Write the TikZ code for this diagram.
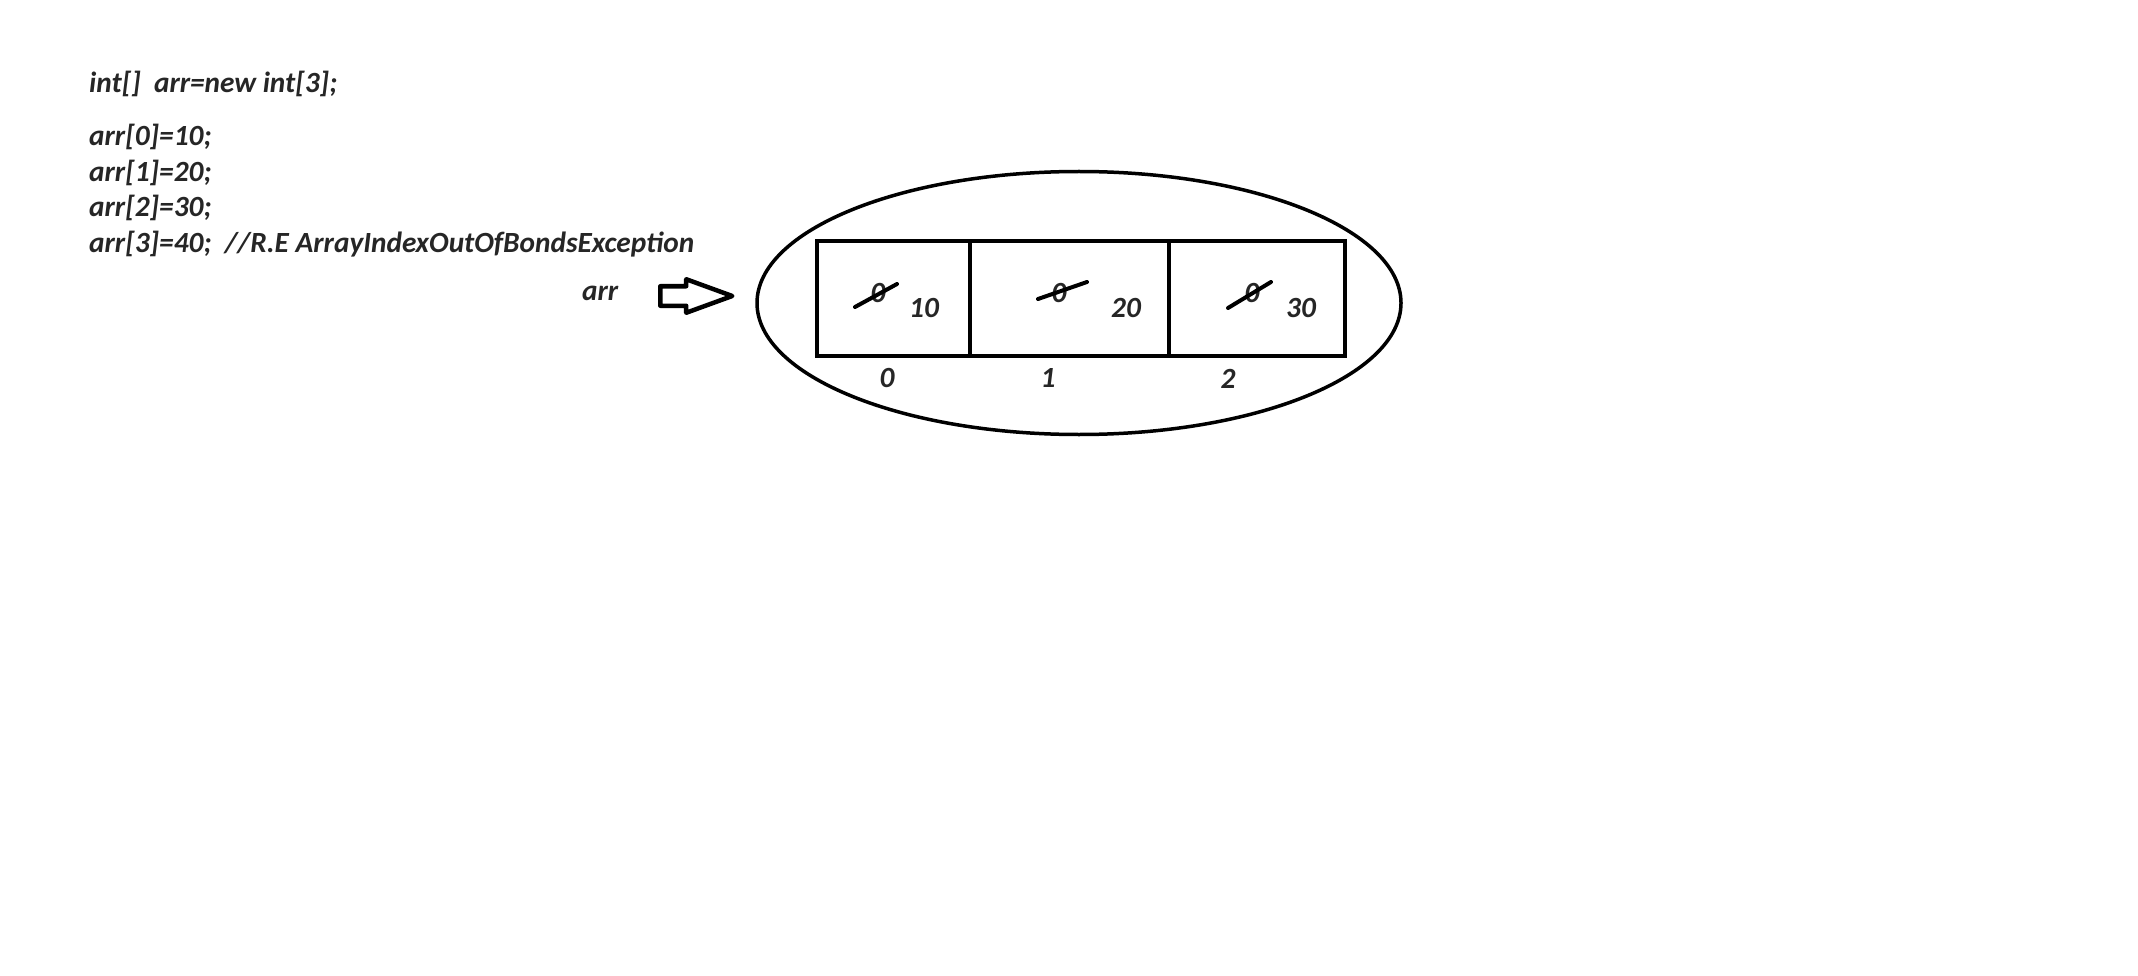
\documentclass[tikz,border=0pt]{standalone}
\usepackage{fontspec}
\setmainfont{Carlito}
\usetikzlibrary{shapes.geometric,shapes.arrows}
\definecolor{ink}{HTML}{262626}
\tikzset{
  txt/.style={inner sep=0pt,text=ink,font=\fontsize{29.3}{35}\selectfont\bfseries\itshape},
  cell/.style={draw,line width=4.5pt,inner sep=0pt,minimum height=115pt},
  strike/.style={line width=4pt,line cap=round}
}
\begin{document}
\begin{tikzpicture}[x=1pt,y=-1pt]
  \useasboundingbox[fill=white] (0,0) rectangle (2138,976);
  \node[txt,anchor=base west] (decl) at (89,93) {int[]\ \ arr=new int[3];};
  \node[txt,anchor=base west] (s0) at (89,146) {arr[0]=10;};
  \node[txt,anchor=base west] (s1) at (89,182) {arr[1]=20;};
  \node[txt,anchor=base west] (s2) at (89,217) {arr[2]=30;};
  \node[txt,anchor=base west] (s3) at (89,253) {arr[3]=40;\ \ //R.E ArrayIndexOutOfBondsException};
  \node[txt,anchor=base west] (ref) at (582,300) {arr};
  \node[single arrow,draw,line width=4.5pt,line join=round,anchor=tail,minimum height=72pt,inner xsep=0pt,inner ysep=7.5pt,
        single arrow head extend=7pt,single arrow tip angle=40] (ptr) at (658,296) {};
  \node[ellipse,draw,line width=3.5pt,minimum width=644pt,minimum height=263pt,inner sep=0pt] (heap) at (1079,303) {};
  \node[cell,minimum width=153pt] (c0) at (893.5,298.5) {};
  \node[cell,minimum width=199pt] (c1) at (1069.5,298.5) {};
  \node[cell,minimum width=176pt] (c2) at (1257,298.5) {};
  \node[txt] (z0) at (878,293) {0};
  \node[txt] (z1) at (1059,293) {0};
  \node[txt] (z2) at (1252,293) {0};
  \draw[strike] (855,307) -- (897,284);
  \draw[strike] (1038,299) -- (1087,282);
  \draw[strike] (1228,308) -- (1271,282);
  \node[txt] (v0) at (924,308) {10};
  \node[txt] (v1) at (1126,308) {20};
  \node[txt] (v2) at (1301,308) {30};
  \node[txt] (i0) at (887,378) {0};
  \node[txt] (i1) at (1048,378) {1};
  \node[txt] (i2) at (1228,379) {2};
\end{tikzpicture}
\end{document}
